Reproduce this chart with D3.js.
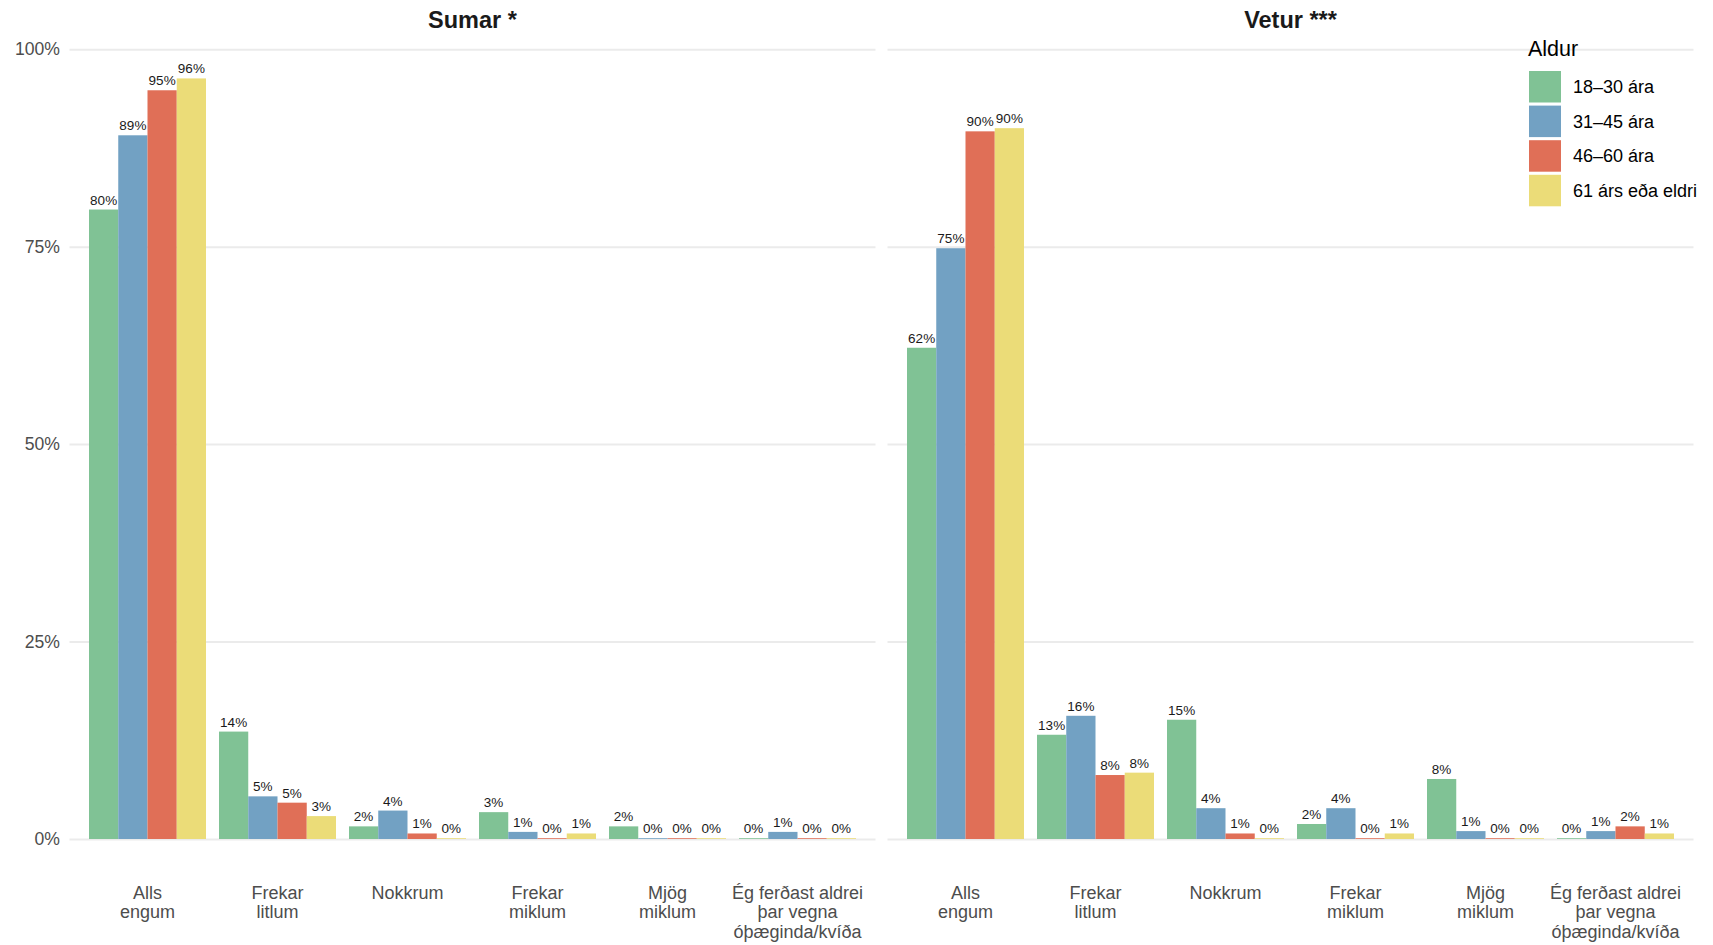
<!DOCTYPE html>
<html>
<head>
<meta charset="utf-8">
<script src="https://cdn.jsdelivr.net/npm/d3@7/dist/d3.min.js"></script>
<style>
  html, body { margin: 0; padding: 0; background: #ffffff; }
  svg { display: block; font-family: "Liberation Sans", Arial, Helvetica, sans-serif; }
</style>
</head>
<body>
<svg id="chart" width="1713" height="945"></svg>
<script>
// ---- Data ----
const categories = [
  "Alls\nengum",
  "Frekar\nlitlum",
  "Nokkrum",
  "Frekar\nmiklum",
  "Mjög\nmiklum",
  "Ég ferðast aldrei\nþar vegna\nóþæginda/kvíða"
];
const ageGroups = ["18–30 ára", "31–45 ára", "46–60 ára", "61 árs eða eldri"];
const groupColors = ["#80c295", "#72a1c3", "#e06f57", "#ebdc78"];
const panelTitles = ["Sumar *", "Vetur ***"];
const yTicks = [0, 0.25, 0.5, 0.75, 1];
const legendTitle = "Aldur";

// Sumar (summer) shares by age group, one value per category
const sumar_18_30 = [0.797, 0.136, 0.016, 0.034, 0.016, 0.001];
const sumar_31_45 = [0.891, 0.054, 0.036, 0.009, 0.001, 0.009];
const sumar_46_60 = [0.948, 0.046, 0.007, 0.001, 0.001, 0.001];
const sumar_61    = [0.963, 0.029, 0.001, 0.007, 0.001, 0.001];

// Vetur (winter) shares by age group
const vetur_18_30 = [0.622, 0.132, 0.151, 0.019, 0.076, 0.001];
const vetur_31_45 = [0.748, 0.156, 0.039, 0.039, 0.010, 0.010];
const vetur_46_60 = [0.896, 0.081, 0.007, 0.001, 0.001, 0.016];
const vetur_61    = [0.900, 0.084, 0.001, 0.007, 0.001, 0.007];

const panelSeries = [
  [sumar_18_30, sumar_31_45, sumar_46_60, sumar_61],
  [vetur_18_30, vetur_31_45, vetur_46_60, vetur_61]
];

// ---- Layout ----
const svg = d3.select("#chart");
const panelLeft = [69.5, 887.5];
const panelW = 806;
const yTop = 49.2, yBottom = 839;
const fontAxis = "17.6px";
const fontXLab = "18px";
const axisColor = "#4d4d4d";

const y = d3.scaleLinear().domain([0, 1]).range([yBottom, yTop]);

panelSeries.forEach((series, p) => {
  const g = svg.append("g").attr("transform", `translate(${panelLeft[p]},0)`);

  const x0 = d3.scaleBand().domain(categories).range([0, panelW])
    .paddingInner(0.1).paddingOuter(0.15);
  const x1 = d3.scaleBand().domain(ageGroups).range([0, x0.bandwidth()]).padding(0);

  // gridlines (+ y labels on left panel)
  const yAxis = d3.axisLeft(y).tickValues(yTicks)
    .tickSizeInner(-panelW).tickSizeOuter(0).tickPadding(9.5)
    .tickFormat(p === 0 ? d3.format(".0%") : () => "");
  const ya = g.append("g").call(yAxis);
  ya.select(".domain").remove();
  ya.selectAll(".tick line").attr("stroke", "#ebebeb").attr("stroke-width", 2);
  ya.selectAll(".tick text").attr("fill", axisColor).style("font-size", fontAxis)
    .style("font-family", "'Liberation Sans', Arial, sans-serif");

  // x axis labels
  const xAxis = d3.axisBottom(x0).tickSize(0).tickPadding(0).tickFormat("");
  const xa = g.append("g").attr("transform", `translate(0,${yBottom})`).call(xAxis);
  xa.select(".domain").remove();
  xa.selectAll(".tick").each(function(d) {
    const t = d3.select(this).append("text")
      .attr("text-anchor", "middle")
      .attr("fill", axisColor)
      .style("font-size", fontXLab)
      .attr("y", 60);
    d.split("\n").forEach((line, i) => {
      t.append("tspan").attr("x", 0).attr("dy", i === 0 ? 0 : 19.4).text(line);
    });
  });

  // bars
  const rows = categories.map((c, ci) => ({
    cat: c,
    vals: ageGroups.map((a, gi) => ({ group: a, gi: gi, v: series[gi][ci] }))
  }));

  const cg = g.selectAll("g.cat").data(rows).join("g")
    .attr("class", "cat")
    .attr("transform", d => `translate(${x0(d.cat)},0)`);

  cg.selectAll("rect").data(d => d.vals).join("rect")
    .attr("x", d => x1(d.group))
    .attr("width", x1.bandwidth())
    .attr("y", d => y(d.v))
    .attr("height", d => y(0) - y(d.v))
    .attr("fill", d => groupColors[d.gi]);

  cg.selectAll("text.val").data(d => d.vals).join("text")
    .attr("class", "val")
    .attr("x", d => x1(d.group) + x1.bandwidth() / 2)
    .attr("y", d => y(d.v) - 5)
    .attr("text-anchor", "middle")
    .attr("fill", "#1a1a1a")
    .style("font-size", "13.5px")
    .text(d => Math.round(d.v * 100) + "%");

  // panel title
  svg.append("text")
    .attr("x", panelLeft[p] + panelW / 2)
    .attr("y", 28)
    .attr("text-anchor", "middle")
    .attr("fill", "#1a1a1a")
    .style("font-size", "23.5px")
    .style("font-weight", "bold")
    .text(panelTitles[p]);
});

// ---- Legend ----
const lg = svg.append("g").attr("transform", "translate(1528,0)");
lg.append("text").attr("x", 0).attr("y", 56)
  .attr("fill", "#000").style("font-size", "21.5px").text(legendTitle);
const keyStep = 34.6, keyH = 31.5, keyW = 32;
ageGroups.forEach((a, i) => {
  lg.append("rect").attr("x", 1).attr("y", 71 + i * keyStep)
    .attr("width", keyW).attr("height", keyH).attr("fill", groupColors[i]);
  lg.append("text").attr("x", 45).attr("y", 71 + i * keyStep + keyH / 2)
    .attr("dy", "0.35em").attr("fill", "#000").style("font-size", "18px").text(a);
});
</script>
</body>
</html>
